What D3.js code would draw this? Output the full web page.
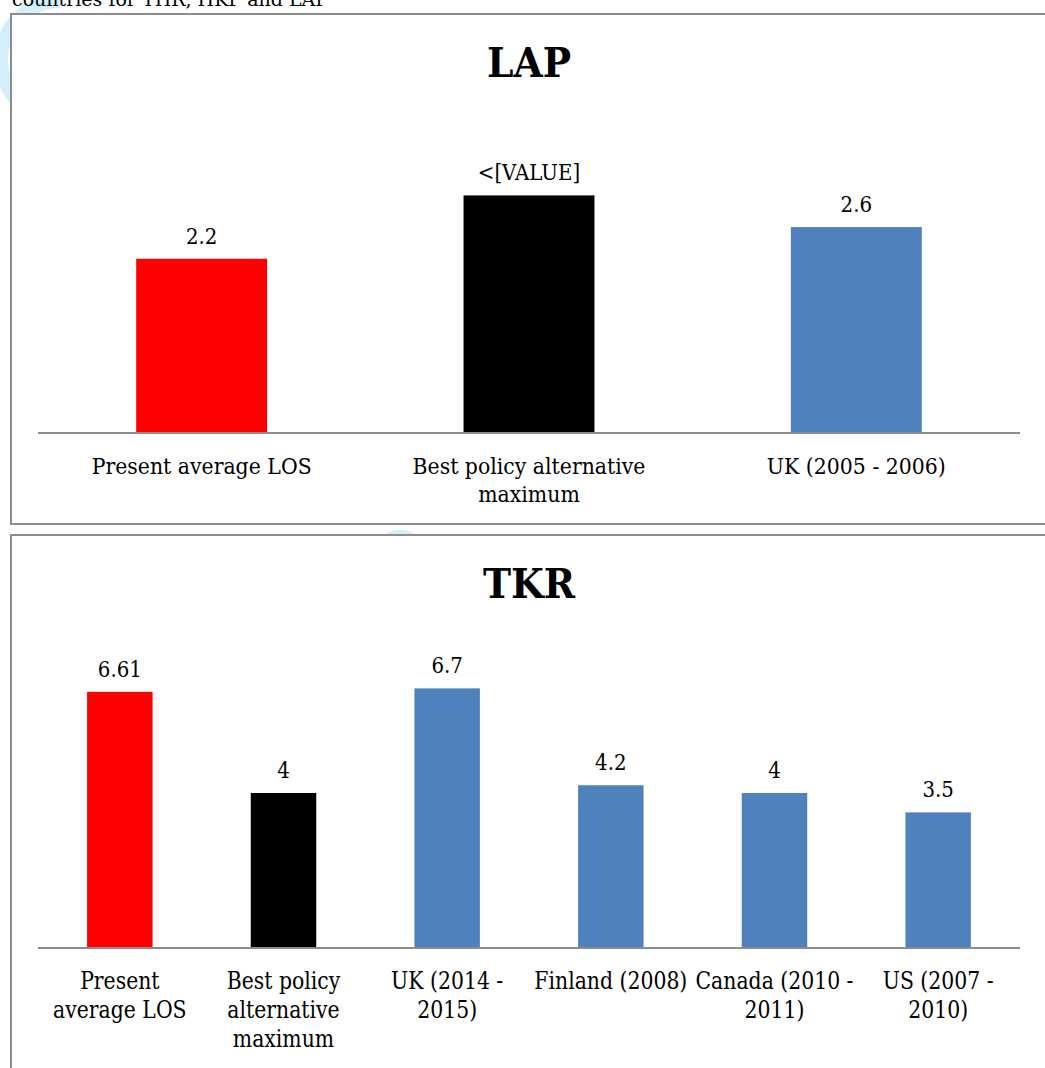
<!DOCTYPE html>
<html>
<head>
<meta charset="utf-8">
<script src="https://cdn.jsdelivr.net/npm/d3@7"></script>
<style>
  body { margin: 0; background: #fff; }
  svg { display: block; }
  text { font-family: "DejaVu Serif", "Liberation Serif", serif; fill: #000; }
</style>
</head>
<body>
<figure id="chart" style="margin:0"></figure>
<script>
// data for the two panels
var lapCategories = [["Present average LOS"], ["Best policy alternative", "maximum"], ["UK (2005 - 2006)"]];
var lapValues = [2.2, 3.0, 2.6];
var lapLabels = ["2.2", "<[VALUE]", "2.6"];

var tkrCategories = [["Present", "average LOS"], ["Best policy", "alternative", "maximum"], ["UK (2014 -", "2015)"],
    ["Finland (2008)"], ["Canada (2010 -", "2011)"], ["US (2007 -", "2010)"]];
var tkrValues = [6.61, 4, 6.7, 4.2, 4, 3.5];
var tkrLabels = ["6.61", "4", "6.7", "4.2", "4", "3.5"];

var barColors = ["#ff0000", "#000000", "#4f81bd", "#4f81bd", "#4f81bd", "#4f81bd"];

var width = 1045, height = 1068;

var svg = d3.select("figure#chart")
    .append("svg")
    .attr("width", width)
    .attr("height", height);

// faint watermark arcs behind the panels
var arc = d3.arc();
svg.append("path")
    .attr("transform", "translate(60, 60)")
    .attr("d", arc({innerRadius: 52, outerRadius: 66, startAngle: -Math.PI, endAngle: 0}))
    .attr("fill", "#d4effc");
svg.append("path")
    .attr("transform", "translate(400, 560)")
    .attr("d", arc({innerRadius: 16, outerRadius: 30, startAngle: -Math.PI / 2, endAngle: Math.PI / 2}))
    .attr("fill", "#d4effc");

// clipped caption line above the first panel
svg.append("text")
    .attr("x", 12)
    .attr("y", 6)
    .attr("font-size", 19)
    .text("countries for THR, HKP and LAP");

// squeezed text helper (the source font is narrower than DejaVu)
function addText(g, x, y, size, sx, str) {
    return g.append("text")
        .attr("transform", `translate(${x}, ${y}) scale(${sx}, 1)`)
        .attr("text-anchor", "middle")
        .attr("font-size", size)
        .text(str);
}

function drawPanel(opts) {
    var g = svg.append("g");

    g.append("rect")
        .attr("x", 11)
        .attr("y", opts.top)
        .attr("width", 1060)
        .attr("height", opts.boxHeight)
        .attr("fill", "#fff")
        .attr("stroke", "#8c8c8c")
        .attr("stroke-width", 2);

    addText(g, 529, opts.top + 63, 41, 0.92, opts.title)
        .attr("font-weight", "bold");

    var xScale = d3.scaleBand()
        .domain(d3.range(opts.values.length))
        .range([38, 1020])
        .padding(0);

    var yScale = d3.scaleLinear()
        .domain([0, opts.yMax])
        .range([opts.baseline, opts.baseline - opts.yMax * opts.unit]);

    var bw = xScale.bandwidth() * 0.4;

    g.selectAll(".bar")
        .data(opts.values)
        .enter()
        .append("rect")
        .attr("class", "bar")
        .attr("x", (d, i) => xScale(i) + xScale.bandwidth() / 2 - bw / 2)
        .attr("y", d => yScale(d))
        .attr("width", bw)
        .attr("height", d => yScale(0) - yScale(d))
        .attr("fill", (d, i) => barColors[i]);

    opts.values.forEach(function(d, i) {
        addText(g, xScale(i) + xScale.bandwidth() / 2, yScale(d) - 15, 22, 0.9, opts.labels[i]);
    });

    // baseline
    g.append("line")
        .attr("x1", 38)
        .attr("x2", 1020)
        .attr("y1", opts.baseline)
        .attr("y2", opts.baseline)
        .attr("stroke", "#8c8c8c")
        .attr("stroke-width", 2);

    // category labels
    opts.categories.forEach(function(lines, i) {
        var cx = xScale(i) + xScale.bandwidth() / 2;
        var t = addText(g, cx, opts.baseline + opts.labelOffset, opts.labelSize, opts.squeeze, null);
        lines.forEach(function(line, j) {
            t.append("tspan")
                .attr("x", 0)
                .attr("y", j * opts.lineHeight)
                .text(line);
        });
    });
}

drawPanel({
    title: "LAP", top: 14, boxHeight: 510, baseline: 433, unit: 79.2, yMax: 3.5,
    values: lapValues, labels: lapLabels, categories: lapCategories,
    labelOffset: 41, lineHeight: 28, labelSize: 22, squeeze: 0.93
});

drawPanel({
    title: "TKR", top: 535, boxHeight: 600, baseline: 948, unit: 38.75, yMax: 8,
    values: tkrValues, labels: tkrLabels, categories: tkrCategories,
    labelOffset: 41, lineHeight: 29, labelSize: 24, squeeze: 0.85
});
</script>
</body>
</html>
